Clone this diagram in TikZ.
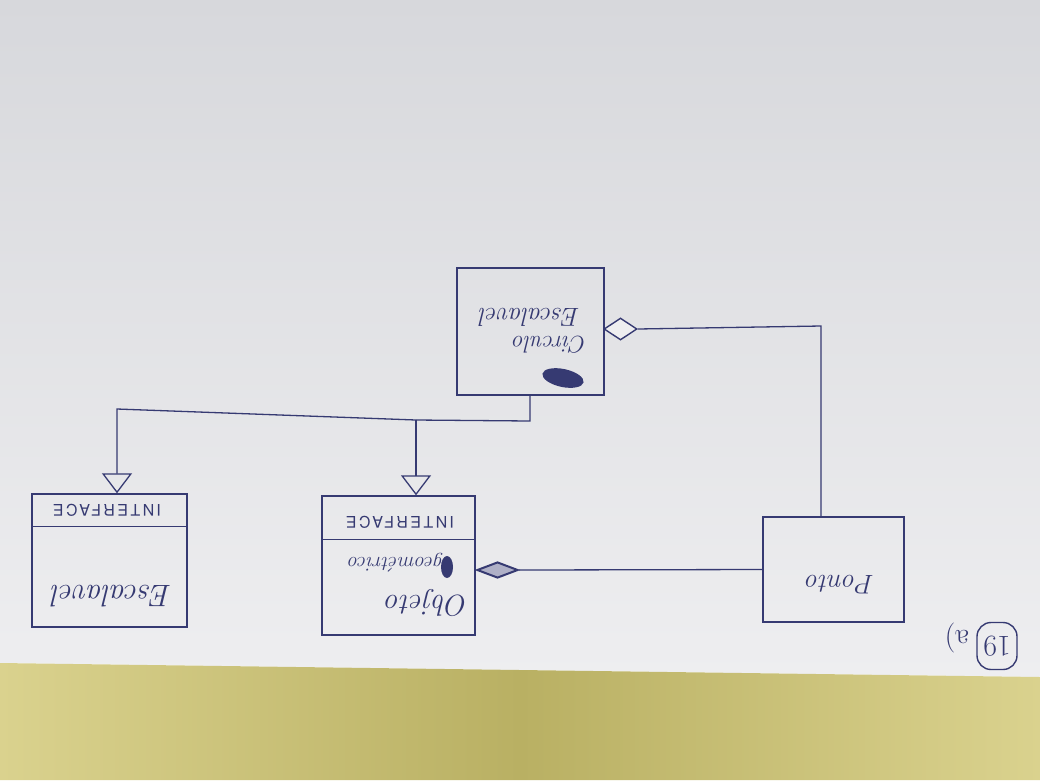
\documentclass[tikz,border=0pt]{standalone}
\usepackage{fontspec}
\usetikzlibrary{shapes.geometric,arrows.meta,calc}
\newfontfamily\capsfont[LetterSpace=15]{TeX Gyre Heros}
\definecolor{pen}{HTML}{363A72}
\definecolor{papertop}{HTML}{D7D8DC}
\definecolor{paperbot}{HTML}{EEEEF0}
\definecolor{tableA}{HTML}{DAD28E}
\definecolor{tableB}{HTML}{B9B063}
\tikzset{
  umlbox/.style={draw=pen, line width=1.4, inner sep=0pt},
  hand/.style={text=pen, inner sep=1pt, rotate=180},
  capstext/.style={text=pen, inner sep=1pt, rotate=180, font=\capsfont\fontsize{16}{16}\selectfont},
  pen line/.style={draw=pen, line width=1.3},
  gen/.style={pen line, -{Triangle[open, length=20pt, width=30pt, line width=1.3pt]}},
  aggdiamond/.style={diamond, draw=pen, line width=1.4, inner sep=0pt, aspect=1.5},
}
\begin{document}
\begin{tikzpicture}[x=1pt,y=-1pt]
\useasboundingbox (0,0) rectangle (1040,780);
% background: paper and table
\shade[top color=papertop, bottom color=paperbot] (0,0) -- (1040,0) -- (1040,677) -- (0,663) -- cycle;
\shade[left color=tableA, right color=tableA, middle color=tableB] (0,663) -- (1040,677) -- (1040,780) -- (0,780) -- cycle;

% boxes
\node[umlbox, minimum width=147, minimum height=127] (circ) at (530.5,331.5) {};
\node[umlbox, minimum width=153, minimum height=139] (obj) at (398.5,565.5) {};
\node[umlbox, minimum width=155, minimum height=133] (esc) at (109.5,560.5) {};
\node[umlbox, minimum width=141, minimum height=105] (ponto) at (833.5,569.5) {};

% interface compartments
\draw[pen line] ($(obj.north west)+(0,44)$) -- ($(obj.north east)+(0,44)$);
\draw[pen line] ($(esc.north west)+(0,33)$) -- ($(esc.north east)+(0,33)$);

% texts
\node[hand, font=\itshape\fontsize{24}{26}\selectfont] (circT1) at (550,345) {Circulo};
\node[hand, font=\itshape\fontsize{26}{28}\selectfont] (circT2) at (530,317) {Escalavel};
\fill[pen, rotate around={-12:(563,378)}] (563,378) ellipse [x radius=21pt, y radius=9pt];

\node[capstext] (objI) at (400,522) {INTERFACE};
\node[hand, font=\itshape\fontsize{30}{32}\selectfont] (objT1) at (427,603) {Objeto};
\node[hand, font=\itshape\fontsize{21}{23}\selectfont] (objT2) at (396,563) {geométrico};
\fill[pen] (447,567) ellipse [x radius=6pt, y radius=11pt];

\node[capstext] (escI) at (107,510) {INTERFACE};
\node[hand, font=\itshape\fontsize{31}{33}\selectfont] (escT) at (112,596) {Escalavel};

\node[hand, font=\itshape\fontsize{27}{29}\selectfont] (pontoT) at (840,585) {Ponto};

% diamonds
\node[aggdiamond, minimum width=33, minimum height=22, fill=paperbot] (cd) at (620.5,329) {};
\node[aggdiamond, minimum width=41, minimum height=16, fill=pen!40, line width=2] (od) at (497.5,570) {};

% junctions
\coordinate (j1) at (530,421);
\coordinate (j2) at (117,409);
\coordinate (j3) at (416,420);
\coordinate (j4) at (821,326);

% generalizations
\draw[pen line] (circ.south -| j1) -- (j1) -- (j3);
\draw[gen] (j3) -- (j2) -- (j2 |- esc.north);
\draw[gen] (j3) -- (j3 |- obj.north);

% associations
\draw[pen line] (cd.east) -- (j4) -- (j4 |- ponto.north);
\draw[pen line] (od.east) -- (ponto.west);

% exercise label
\node[text=pen, draw=pen, line width=1.4, rounded corners=14pt, minimum width=40, minimum height=47, inner sep=0pt, rotate=180, font=\fontsize{30}{30}\selectfont] (num) at (997,646) {19};
\node[hand, font=\fontsize{30}{30}\selectfont] (lbl) at (957,638) {a)};
\end{tikzpicture}
\end{document}
